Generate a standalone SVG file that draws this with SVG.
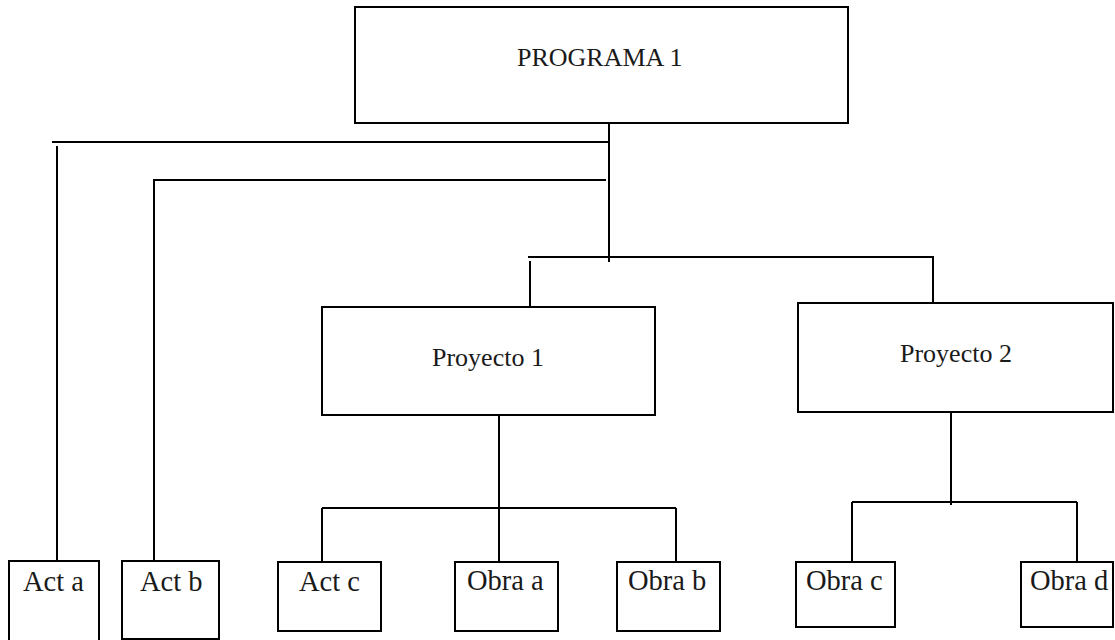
<svg xmlns="http://www.w3.org/2000/svg" width="1115" height="640" viewBox="0 0 1115 640">
<style>
.box{fill:#ffffff;stroke:#000000;stroke-width:2}
.ln{stroke:#000000;stroke-width:2;fill:none}
.t{font-family:"Liberation Serif","Times New Roman",serif;fill:#1a1a1a}
.big{font-size:26px}
.sm{font-size:28.5px}
</style>
<rect width="1115" height="640" fill="#ffffff"/>
<g id="connectors">
<line class="ln" x1="609" y1="123" x2="609" y2="262"/>
<line class="ln" x1="52" y1="142" x2="609" y2="142"/>
<line class="ln" x1="57" y1="146" x2="57" y2="561"/>
<line class="ln" x1="153" y1="180" x2="606" y2="180"/>
<line class="ln" x1="154" y1="180" x2="154" y2="573"/>
<line class="ln" x1="528" y1="257" x2="933" y2="257"/>
<line class="ln" x1="530" y1="261" x2="530" y2="320"/>
<line class="ln" x1="933" y1="256" x2="933" y2="317"/>
<line class="ln" x1="499" y1="409" x2="499" y2="567"/>
<line class="ln" x1="322" y1="508" x2="676" y2="508"/>
<line class="ln" x1="322" y1="508" x2="322" y2="577"/>
<line class="ln" x1="676" y1="508" x2="676" y2="567"/>
<line class="ln" x1="951" y1="402" x2="951" y2="505"/>
<line class="ln" x1="852" y1="502" x2="1077" y2="502"/>
<line class="ln" x1="852" y1="502" x2="852" y2="562"/>
<line class="ln" x1="1077" y1="502" x2="1077" y2="562"/>
</g>
<g id="programa1">
<rect class="box" x="355" y="7" width="493" height="116"/>
<text class="t big" x="517" y="66">PROGRAMA 1</text>
</g>
<g id="proyecto1">
<rect class="box" x="322" y="307" width="333" height="108"/>
<text class="t big" x="432" y="366">Proyecto 1</text>
</g>
<g id="proyecto2">
<rect class="box" x="798" y="303" width="315" height="109"/>
<text class="t big" x="900" y="362">Proyecto 2</text>
</g>
<g id="acta">
<rect class="box" x="9" y="561" width="90" height="90"/>
<text class="t sm" x="23" y="591">Act a</text>
</g>
<g id="actb">
<rect class="box" x="122" y="561" width="97" height="78"/>
<text class="t sm" x="140" y="591">Act b</text>
</g>
<g id="actc">
<rect class="box" x="278" y="562" width="103" height="69"/>
<text class="t sm" x="299" y="591">Act c</text>
</g>
<g id="obraa">
<rect class="box" x="455" y="562" width="103" height="69"/>
<text class="t sm" x="467" y="590">Obra a</text>
</g>
<g id="obrab">
<rect class="box" x="617" y="562" width="103" height="69"/>
<text class="t sm" x="628" y="590">Obra b</text>
</g>
<g id="obrac">
<rect class="box" x="796" y="562" width="99" height="65"/>
<text class="t sm" x="806" y="590">Obra c</text>
</g>
<g id="obrad">
<rect class="box" x="1021" y="562" width="92" height="65"/>
<text class="t sm" x="1030" y="590">Obra d</text>
</g>
</svg>
